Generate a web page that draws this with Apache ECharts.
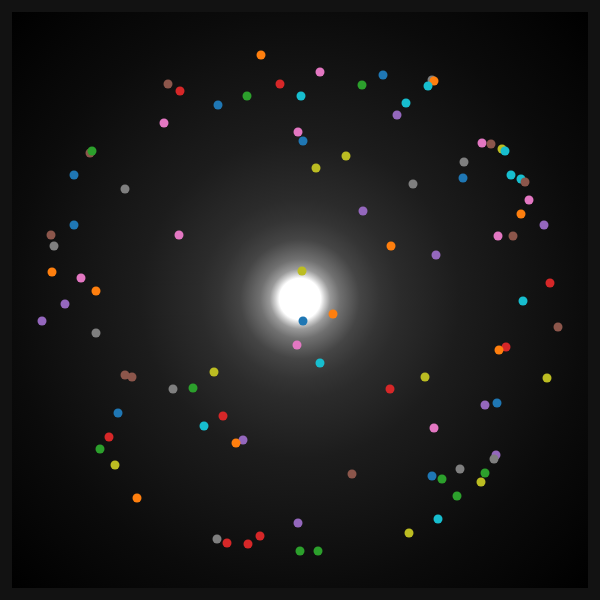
<!DOCTYPE html>
<html>
<head>
<meta charset="utf-8">
<script src="https://cdn.jsdelivr.net/npm/echarts@6/dist/echarts.min.js"></script>
<style>
html,body{margin:0;padding:0;background:#121212;}
#chart{width:600px;height:600px;}
</style>
</head>
<body>
<div id="chart"></div>
<script>
// Point positions per colour group (x, y in plot units; y grows downward)
const blue   = [[218,105],[303,141],[74,175],[74,225],[383,75],[463,178],[118,413],[303,321],[497,403],[432,476]];
const red    = [[180,91],[280,84],[550,283],[223,416],[109,437],[227,543],[248,544],[260,536],[506,347],[390,389]];
const pink   = [[164,123],[298,132],[179,235],[81,278],[320,72],[482,143],[529,200],[498,236],[297,345],[434,428]];
const purple = [[397,115],[544,225],[363,211],[436,255],[65,304],[42,321],[243,440],[298,523],[485,405],[496,455]];
const gray   = [[125,189],[54,246],[432,80],[464,162],[413,184],[96,333],[173,389],[217,539],[494,459],[460,469]];
const orange = [[261,55],[52,272],[96,291],[434,81],[521,214],[391,246],[236,443],[137,498],[333,314],[499,350]];
const yellow = [[302,271],[346,156],[316,168],[502,149],[214,372],[115,465],[425,377],[547,378],[481,482],[409,533]];
const cyan   = [[301,96],[428,86],[406,103],[505,151],[511,175],[521,179],[523,301],[204,426],[320,363],[438,519]];
const brown  = [[168,84],[90,153],[51,235],[491,144],[525,182],[513,236],[125,375],[132,377],[558,327],[352,474]];
const green  = [[247,96],[92,151],[362,85],[193,388],[100,449],[300,551],[442,479],[485,473],[457,496],[318,551]];

const groups = [
  {name:'blue', data:blue, color:'#1f77b4'},
  {name:'red', data:red, color:'#d62728'},
  {name:'pink', data:pink, color:'#e377c2'},
  {name:'purple', data:purple, color:'#9467bd'},
  {name:'gray', data:gray, color:'#7f7f7f'},
  {name:'orange', data:orange, color:'#ff7f0e'},
  {name:'yellow', data:yellow, color:'#bcbd22'},
  {name:'cyan', data:cyan, color:'#17becf'},
  {name:'brown', data:brown, color:'#8c564b'},
  {name:'green', data:green, color:'#2ca02c'}
];

const chart = echarts.init(document.getElementById('chart'), null, {renderer:'canvas'});
const glow = new echarts.graphic.RadialGradient(300, 299, 407, [
  {offset:0, color:'#ffffff'},
  {offset:0.051, color:'#ffffff'},
  {offset:0.061, color:'#d0d0d0'},
  {offset:0.074, color:'#999999'},
  {offset:0.098, color:'#707070'},
  {offset:0.147, color:'#454545'},
  {offset:0.197, color:'#343434'},
  {offset:0.246, color:'#2b2b2b'},
  {offset:0.393, color:'#1c1c1c'},
  {offset:0.54, color:'#141414'},
  {offset:0.71, color:'#0b0b0b'},
  {offset:1, color:'#000000'}
], true);

chart.setOption({
  backgroundColor:'#121212',
  animation:false,
  graphic:[{
    type:'rect', z:-10, silent:true,
    shape:{x:12, y:12, width:576, height:576},
    style:{fill:glow}
  }],
  grid:{left:0, right:0, top:0, bottom:0},
  xAxis:{type:'value', min:0, max:600, show:false},
  yAxis:{type:'value', min:0, max:600, inverse:true, show:false},
  series: groups.map(g => ({
    type:'scatter',
    name:g.name,
    data:g.data,
    symbolSize:9,
    itemStyle:{color:g.color, opacity:1},
    emphasis:{disabled:true}
  }))
});
</script>
</body>
</html>
